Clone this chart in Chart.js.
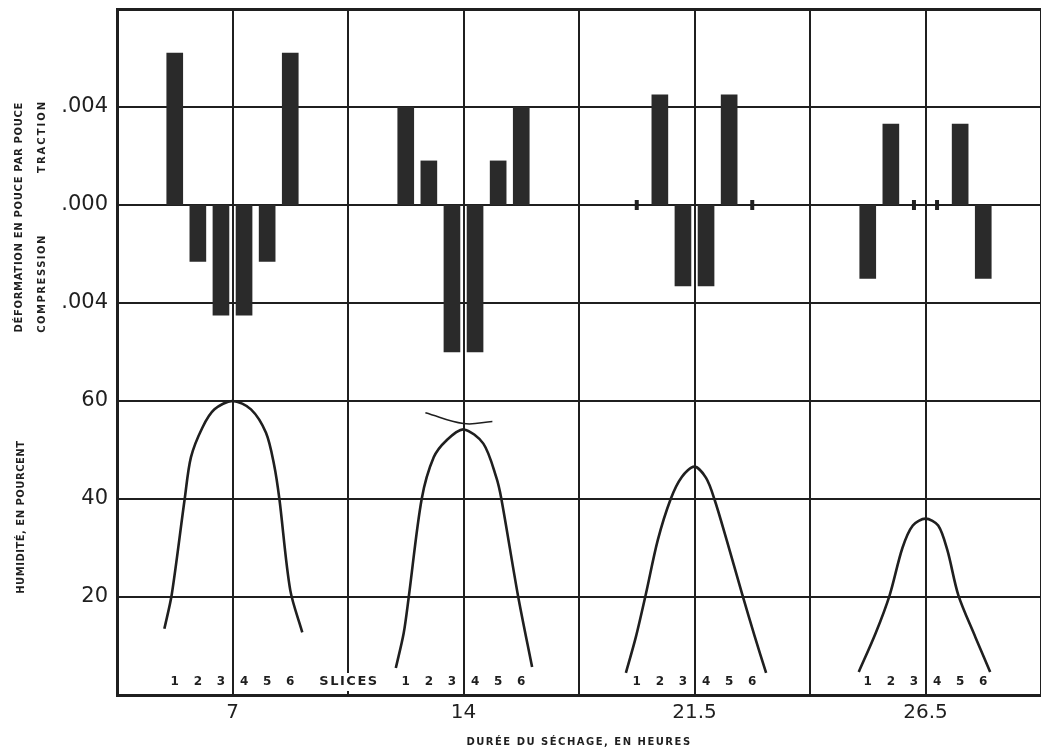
<!DOCTYPE html>
<html><head><meta charset="utf-8">
<script src="https://cdn.jsdelivr.net/npm/chart.js@4/dist/chart.umd.min.js"></script>
<style>html,body{margin:0;padding:0;background:#fff;overflow:hidden;width:1041px;height:751px}canvas{display:block}</style>
</head><body>
<canvas id="c" width="1050" height="751"></canvas>
<script>
// ---- data ----
const hours = ['7', '14', '21.5', '26.5'];
const sliceLabels = ['1', '2', '3', '4', '5', '6'];
// strain (in/in) per slice, + = traction, - = compression
const strain7  = [0.0062, -0.0023, -0.0045, -0.0045, -0.0023, 0.0062];
const strain14 = [0.0040, 0.0018, -0.0060, -0.0060, 0.0018, 0.0040];
const strain21 = [0, 0.0045, -0.0033, -0.0033, 0.0045, 0];
const strain26 = [-0.0030, 0.0033, 0, 0, 0.0033, -0.0030];
const strainSets = [strain7, strain14, strain21, strain26];
// humidity profiles: position across the board in slice units, humidity %
const curve7S  = [0.55, 0.87, 1.43, 1.7, 2.2, 2.72, 3.5, 4.3, 4.95, 5.3, 5.53, 6.0, 6.52];
const curve7H  = [13.5, 20.5, 40, 48.5, 54.6, 58.3, 60, 58.3, 53.5, 47, 40, 21.4, 12.8];
const curve14S = [0.57, 0.91, 1.13, 1.69, 2.21, 2.77, 3.5, 4.36, 4.92, 5.14, 5.87, 6.47];
const curve14H = [5.5, 12.6, 20, 40, 48.5, 52, 54.2, 51.3, 44.4, 40, 20, 5.7];
const curve21S = [0.53, 0.96, 1.39, 1.91, 2.47, 2.95, 3.5, 4.0, 4.36, 4.9, 5.57, 6.09, 6.6];
const curve21H = [4.5, 11.8, 20.5, 31.6, 40, 44.5, 46.6, 44.3, 40, 31.5, 20.5, 12.2, 4.5];
const curve26S = [0.61, 1.34, 1.95, 2.5, 2.95, 3.5, 4.05, 4.45, 4.92, 5.66, 6.3];
const curve26H = [4.7, 12.6, 20.4, 30, 34.6, 36, 34.6, 29.5, 20.4, 11.8, 4.7];
const curveS = [curve7S, curve14S, curve21S, curve26S];
const curveH = [curve7H, curve14H, curve21H, curve26H];
// pencil mark above the 14 h peak
const mark14S = [1.85, 3.5, 4.75];
const mark14H = [57.6, 55.4, 55.8];
// left axis tick labels (humidity 0..60 below, strain above)
const yTickLabels = ['', '20', '40', '60', '.004', '.000', '.004', ''];

// ---- layout helpers ----
const groupCenter = i => 2 * i + 1;
const slicePos = (i, s) => groupCenter(i) + (s - 3.5) * 0.2;
const INK = '#1f1f1f';

const barData = [], zeroData = [];
strainSets.forEach((arr, i) => arr.forEach((v, k) => {
  const p = {x: slicePos(i, k + 1), y: v};
  if (v === 0) zeroData.push(p); else barData.push(p);
}));

const datasets = [{
  type: 'bar', data: barData, yAxisID: 'y2', backgroundColor: '#2a2a2a',
  barThickness: 16, borderWidth: 0, order: 2
}, {
  type: 'line', data: zeroData, yAxisID: 'y2', showLine: false,
  pointStyle: 'line', rotation: 90, pointRadius: 5, borderWidth: 4,
  borderColor: INK, order: 1
}];
curveS.forEach((sArr, i) => {
  datasets.push({
    type: 'line', yAxisID: 'y', order: 0,
    data: sArr.map((s, j) => ({x: slicePos(i, s), y: curveH[i][j]})),
    borderColor: INK, borderWidth: 2.6, pointRadius: 0,
    tension: 0.3, fill: false
  });
});
datasets.push({
  type: 'line', yAxisID: 'y', order: 0,
  data: mark14S.map((s, j) => ({x: slicePos(1, s), y: mark14H[j]})),
  borderColor: INK, borderWidth: 1.5, pointRadius: 0, tension: 0.4
});

const textPlugin = {
  id: 'texts',
  afterDraw(chart) {
    const ctx = chart.ctx, xs = chart.scales.x, ys = chart.scales.y, ca = chart.chartArea;
    ctx.save();
    ctx.fillStyle = INK;
    ctx.textAlign = 'center';
    ctx.textBaseline = 'middle';
    // slice numbers
    ctx.font = 'bold 12px "DejaVu Sans"';
    const yNum = ca.bottom - 13;
    hours.forEach((h, i) => sliceLabels.forEach((lab, k) => {
      ctx.fillText(lab, xs.getPixelForValue(slicePos(i, k + 1)), yNum);
    }));
    // SLICES
    ctx.font = 'bold 13px "DejaVu Sans"';
    ctx.letterSpacing = '1.5px';
    const sx = xs.getPixelForValue(2);
    const w = ctx.measureText('SLICES').width;
    ctx.fillStyle = '#fff';
    ctx.fillRect(sx - w / 2 - 4, yNum - 9, w + 8, 18);
    ctx.fillStyle = INK;
    ctx.fillText('SLICES', sx + 1, yNum);
    // x title
    ctx.font = 'bold 10px "DejaVu Sans"';
    ctx.letterSpacing = '1.5px';
    ctx.fillText('DURÉE DU SÉCHAGE, EN HEURES', (ca.left + ca.right) / 2, 742);
    // left titles (rotated)
    const vText = (txt, x, y, font, ls) => {
      ctx.save(); ctx.translate(x, y); ctx.rotate(-Math.PI / 2);
      ctx.font = font; ctx.letterSpacing = ls; ctx.fillText(txt, 0, 0); ctx.restore();
    };
    vText('DÉFORMATION EN POUCE PAR POUCE', 19, ys.getPixelForValue(97.5), 'bold 10px "DejaVu Sans"', '0.7px');
    vText('TRACTION', 42, ys.getPixelForValue(114), 'bold 10px "DejaVu Sans"', '2px');
    vText('COMPRESSION', 42, ys.getPixelForValue(84), 'bold 10px "DejaVu Sans"', '1.5px');
    vText('HUMIDITÉ, EN POURCENT', 21, ys.getPixelForValue(36.3), 'bold 10px "DejaVu Sans"', '0.5px');
    ctx.restore();
  }
};

new Chart(document.getElementById('c'), {
  type: 'bar',
  data: {datasets},
  options: {
    responsive: false, animation: false,
    layout: {padding: {top: 8, right: 5, bottom: 0, left: 0}},
    plugins: {legend: {display: false}, tooltip: {enabled: false}},
    scales: {
      x: {
        type: 'linear', min: 0, max: 8, offset: false,
        grid: {offset: false, color: INK, lineWidth: 2, drawTicks: false},
        border: {color: INK, width: 3},
        ticks: {
          stepSize: 1, autoSkip: false, maxRotation: 0, padding: 6, color: INK,
          font: {family: 'DejaVu Sans', size: 20},
          callback: v => (v % 2 === 1 ? hours[(v - 1) / 2] : '')
        },
        afterFit: s => { s.height = 56; s.paddingLeft = 0; s.paddingRight = 0; }
      },
      y: {
        type: 'linear', position: 'left', min: 0, max: 140,
        grid: {color: INK, lineWidth: c => (c.tick && c.tick.value === 140 ? 3 : 2), drawTicks: false},
        border: {color: INK, width: 3},
        ticks: {
          stepSize: 20, autoSkip: false, padding: 9, color: INK,
          font: {family: 'DejaVu Sans', size: 21},
          callback: (v, i) => yTickLabels[i]
        },
        afterFit: s => { s.width = 117; s.paddingTop = 0; s.paddingBottom = 0; }
      },
      y2: {
        type: 'linear', position: 'left', display: false, min: -0.020, max: 0.008
      }
    }
  },
  plugins: [textPlugin]
});
</script>
</body></html>
